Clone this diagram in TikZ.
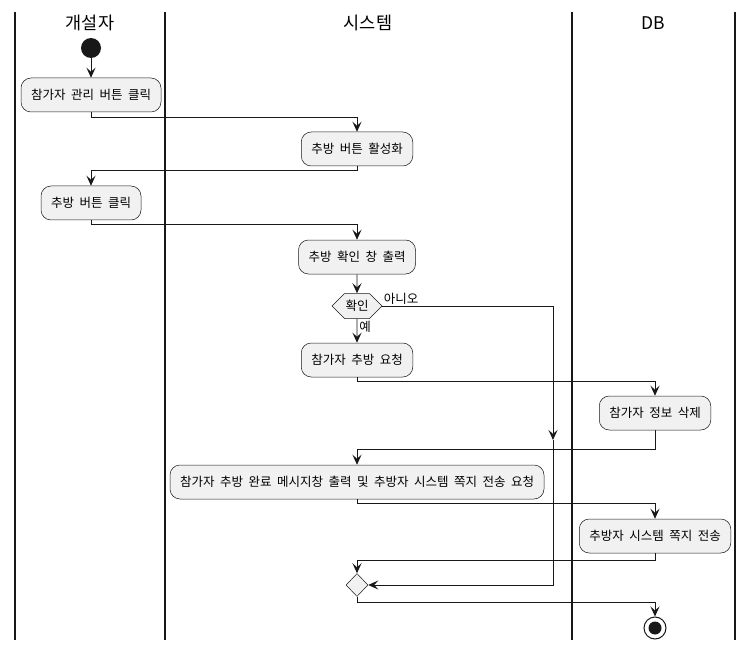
\documentclass[tikz,border=0pt]{standalone}
\usepackage{fontspec}
\newfontfamily\krfont{Noto Sans CJK KR}
\usepackage{xcolor}
\usetikzlibrary{arrows.meta,shapes.geometric,shapes.symbols}
\definecolor{actfill}{HTML}{F1F1F1}
\definecolor{lineblk}{HTML}{181818}
\newcommand\actfont{\krfont\fontsize{12.5}{14}\selectfont\spaceskip=5.5pt plus 1pt\relax}

\begin{document}
\begin{tikzpicture}[x=1pt,y=-1pt,
    lane/.style={draw=lineblk, line width=1.5pt},
    header/.style={font=\krfont\fontsize{17.5}{20}\selectfont, text=black},
    action/.style={rectangle, rounded corners=10pt, draw=lineblk, line width=0.5pt, fill=actfill, minimum height=34pt, inner xsep=10pt, font=\actfont},
    decision/.style={signal, signal to=west and east, signal pointer angle=90, draw=lineblk, line width=0.5pt, fill=actfill, minimum width=49pt, minimum height=25pt, inner sep=1pt, font=\actfont},
    merge/.style={diamond, draw=lineblk, line width=0.5pt, fill=actfill, minimum width=22pt, minimum height=23pt, inner sep=0pt},
    startdot/.style={circle, fill=lineblk, minimum size=20pt, inner sep=0pt},
    stopdot/.style={circle, draw=lineblk, line width=1pt, fill=white, minimum size=22pt, inner sep=0pt},
    flow/.style={-{Stealth[length=10pt,width=9pt,inset=4pt]}, draw=lineblk, line width=0.8pt},
    lbl/.style={font=\actfont, inner sep=1pt}
]
\useasboundingbox (0,0) rectangle (753,650);

% Swimlanes
\draw[lane] (15,12) -- (15,640);
\draw[lane] (165,12) -- (165,640);
\draw[lane] (572,12) -- (572,640);
\draw[lane] (735,12) -- (735,640);
\node[header] (h1) at (90,23) {개설자};
\node[header] (h2) at (368,23) {시스템};
\node[header] (h3) at (653,23) {DB};

% Actions
\node[startdot] (start) at (91,48) {};
\node[action] (act1) at (91,95) {참가자 관리 버튼 클릭};
\node[action] (act2) at (357,149) {추방 버튼 활성화};
\node[action] (act3) at (91,203) {추방 버튼 클릭};
\node[action] (act4) at (357,257) {추방 확인 창 출력};
\node[decision] (dec) at (357,306) {확인};
\node[action] (act5) at (357,360) {참가자 추방 요청};
\node[action] (act6) at (655,413) {참가자 정보 삭제};
\node[action] (act7) at (357,482) {참가자 추방 완료 메시지창 출력 및 추방자 시스템 쪽지 전송 요청};
\node[action] (act8) at (655,536) {추방자 시스템 쪽지 전송};
\node[merge] (mrg) at (357,585) {};
\node[stopdot] (stop) at (655,628) {};
\node[circle, fill=lineblk, minimum size=13pt, inner sep=0pt] (stopcore) at (stop) {};
\coordinate (nomid) at (553,440);

% Flows
\draw[flow] (start) -- (act1);
% developer -> system
\draw[flow] (act1.south) -- ++(0,5) -| (act2.north);
\draw[flow] (act2.south) -- ++(0,4) -| (act3.north);
\draw[flow] (act3.south) -- ++(0,4) -| (act4.north);
\draw[flow] (act4) -- (dec);
% yes branch
\draw[flow] (dec) -- node[lbl, pos=0.05, anchor=north west, xshift=1pt] {예} (act5);
% no branch
\draw[flow] (dec.east) -| node[lbl, pos=0, anchor=south west] {아니오} (nomid);
\draw[flow] (nomid) |- (mrg.east);
% system <-> DB
\draw[flow] (act5.south) -- ++(0,4) -| (act6.north);
\draw[flow] (act6.south) -- ++(0,19) -| (act7.north);
\draw[flow] (act7.south) -- ++(0,4) -| (act8.north);
\draw[flow] (act8.south) -- ++(0,7) -| (mrg.north);
\draw[flow] (mrg.south) -- ++(0,6) -| (stop.north);

\end{tikzpicture}
\end{document}
